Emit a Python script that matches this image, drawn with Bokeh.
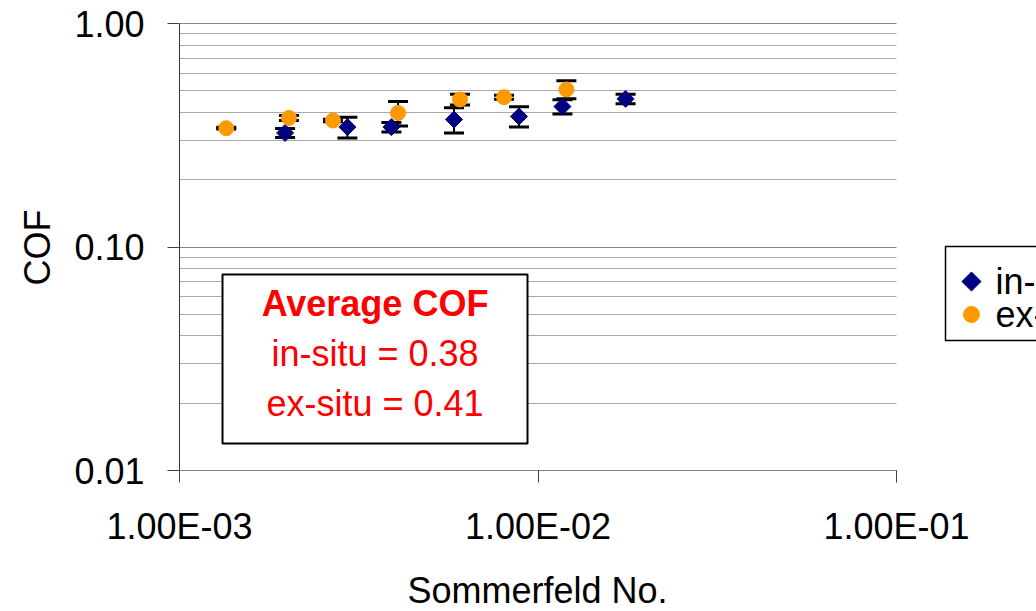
import numpy as np
from bokeh.plotting import figure
from bokeh.models import (ColumnDataSource, Whisker, TeeHead, BoxAnnotation, Label,
                          FixedTicker, CustomJSTickFormatter)
from bokeh.embed import file_html
from bokeh.resources import INLINE

# ---------------- data ----------------
in_situ_S = [1.97e-3, 2.94e-3, 3.90e-3, 5.83e-3, 8.85e-3, 1.17e-2, 1.755e-2]
in_situ_cof = [0.324, 0.344, 0.344, 0.372, 0.384, 0.425, 0.460]
in_situ_err = [0.015, 0.037, 0.017, 0.048, 0.040, 0.031, 0.023]

ex_situ_S = [1.35e-3, 2.02e-3, 2.68e-3, 4.07e-3, 6.06e-3, 8.04e-3, 1.20e-2]
ex_situ_cof = [0.340, 0.378, 0.368, 0.398, 0.457, 0.468, 0.507]
ex_situ_err = [0.003, 0.010, 0.005, 0.050, 0.025, 0.010, 0.047]

series_names = ["in-situ", "ex-situ"]

x_ticks = [1e-3, 1e-2, 1e-1]
x_tick_labels = ["1.00E-03", "1.00E-02", "1.00E-01"]
y_ticks = [0.01, 0.1, 1.0]
y_tick_labels = ["0.01", "0.10", "1.00"]
y_minor_ticks = [m * 10.0 ** e for e in (-2, -1) for m in range(2, 10)]

x_title = "Sommerfeld No."
y_title = "COF"
box_lines = ["Average COF", "in-situ = 0.38", "ex-situ = 0.41"]

# ---------------- styles / layout ----------------
FONT = "Liberation Sans"
FS = "36px"
NAVY = "#000080"
ORANGE = "#FF9900"
W, H = 1036, 611
# plot area: x 1e-3..1e-1 -> px 179..896 ; y 1..0.01 -> px 23..470
PX_DEC_X = (896 - 179) / 2.0
PX_DEC_Y = (470 - 23) / 2.0
x_lo = 10 ** (-3 - 179 / PX_DEC_X)
x_hi = 10 ** (-3 + (W - 179) / PX_DEC_X)
y_hi = 10 ** (23 / PX_DEC_Y)
y_lo = 10 ** (-(H - 23) / PX_DEC_Y)

def xd(px):
    return 10 ** (-3 + (px - 179) / PX_DEC_X)

def yd(py):
    return 10 ** (-(py - 23) / PX_DEC_Y)

p = figure(width=W, height=H, x_axis_type="log", y_axis_type="log",
           x_range=(x_lo, x_hi), y_range=(y_lo, y_hi),
           output_backend="svg", toolbar_location=None,
           min_border_left=0, min_border_right=0, min_border_top=0, min_border_bottom=0)
p.outline_line_color = None
p.background_fill_color = "white"
p.border_fill_color = "white"

fmt_code = """
let best = 0;
for (let i = 1; i < tvals.length; i++) {
  if (Math.abs(Math.log10(tvals[i]) - Math.log10(tick)) <
      Math.abs(Math.log10(tvals[best]) - Math.log10(tick))) best = i;
}
return tlabels[best];
"""

xa = p.xaxis[0]
xa.fixed_location = y_ticks[0]
xa.bounds = (x_ticks[0], x_ticks[-1])
xa.ticker = FixedTicker(ticks=x_ticks, minor_ticks=[])
xa.formatter = CustomJSTickFormatter(args=dict(tvals=x_ticks, tlabels=x_tick_labels), code=fmt_code)
xa.major_tick_out = 12
xa.major_tick_in = 0
xa.minor_tick_out = 0
xa.minor_tick_in = 0
xa.axis_line_color = "#808080"
xa.major_tick_line_color = "#404040"
xa.major_label_text_font = FONT
xa.major_label_text_font_size = FS
xa.major_label_text_color = "black"
xa.major_label_standoff = 23

ya = p.yaxis[0]
ya.fixed_location = x_ticks[0]
ya.bounds = (y_ticks[0], y_ticks[-1])
ya.ticker = FixedTicker(ticks=y_ticks, minor_ticks=y_minor_ticks)
ya.formatter = CustomJSTickFormatter(args=dict(tvals=y_ticks, tlabels=y_tick_labels), code=fmt_code)
ya.major_tick_out = 12
ya.major_tick_in = 0
ya.minor_tick_out = 0
ya.minor_tick_in = 0
ya.axis_line_color = "#333333"
ya.major_tick_line_color = "#404040"
ya.major_label_text_font = FONT
ya.major_label_text_font_size = FS
ya.major_label_text_color = "black"
ya.major_label_standoff = 23

p.xgrid.visible = False
yg = p.ygrid[0]
yg.bounds = (y_ticks[0] * 0.99, y_ticks[-1] * 1.01)
yg.cross_bounds = (x_ticks[0], x_ticks[-1])
yg.grid_line_color = "#858585"
yg.grid_line_width = 1
yg.minor_grid_line_color = "#a8a8a8"
yg.minor_grid_line_width = 1

# error bars
src_in = ColumnDataSource(dict(x=in_situ_S,
                               upper=[c + e for c, e in zip(in_situ_cof, in_situ_err)],
                               lower=[c - e for c, e in zip(in_situ_cof, in_situ_err)]))
src_ex = ColumnDataSource(dict(x=ex_situ_S,
                               upper=[c + e for c, e in zip(ex_situ_cof, ex_situ_err)],
                               lower=[c - e for c, e in zip(ex_situ_cof, ex_situ_err)]))
for src in (src_in, src_ex):
    w = Whisker(base="x", upper="upper", lower="lower", source=src, dimension="height",
                line_color="black", line_width=2, level="underlay",
                upper_head=TeeHead(size=20, line_width=3, line_color="black"),
                lower_head=TeeHead(size=20, line_width=3, line_color="black"))
    p.add_layout(w)

IN_STYLE = dict(marker="square", angle=np.pi / 4, size=12, fill_color=NAVY, line_color=NAVY)
EX_STYLE = dict(marker="circle", size=15, fill_color=ORANGE, line_color=ORANGE)
p.scatter(in_situ_S, in_situ_cof, **IN_STYLE)
p.scatter(ex_situ_S, ex_situ_cof, **EX_STYLE)

# legend (box extends beyond the right edge, as in the reference)
LEG_TOP, LEG_BOT, LEG_LEFT = 246, 340, 945
LEG_ROWS = [281, 314]
p.add_layout(BoxAnnotation(left=xd(LEG_LEFT), right=xd(W + 200), top=yd(LEG_TOP), bottom=yd(LEG_BOT),
                           fill_color="white", fill_alpha=1.0, line_color="black",
                           line_alpha=1.0, line_width=1.5))
leg_styles = [dict(IN_STYLE, size=13.5), dict(EX_STYLE, size=16)]
for name, style, row in zip(series_names, leg_styles, LEG_ROWS):
    p.scatter([xd(971)], [yd(row)], level="overlay", **style)
    p.add_layout(Label(x=xd(995), y=yd(row), text=name, text_align="left", text_baseline="middle",
                       text_font=FONT, text_font_size=FS, text_color="black"))

# text box
p.add_layout(BoxAnnotation(left=xd(222), right=xd(527), top=yd(274), bottom=yd(443),
                           fill_color="white", fill_alpha=1.0, line_color="black",
                           line_alpha=1.0, line_width=2))
for i, (txt, py) in enumerate(zip(box_lines, [303, 353, 403])):
    p.add_layout(Label(x=xd(374.5), y=yd(py), text=txt, text_align="center", text_baseline="middle",
                       text_font=FONT, text_font_size=FS, text_color="red",
                       text_font_style="bold" if i == 0 else "normal"))

# axis titles
p.add_layout(Label(x=xd(537), y=yd(590), text=x_title, text_align="center", text_baseline="middle",
                   text_font=FONT, text_font_size=FS, text_color="black"))
p.add_layout(Label(x=xd(37), y=yd(247), text=y_title, angle=np.pi / 2, text_align="center",
                   text_baseline="middle", text_font=FONT, text_font_size=FS, text_color="black"))

open("out.html", "w").write(file_html(p, INLINE))
